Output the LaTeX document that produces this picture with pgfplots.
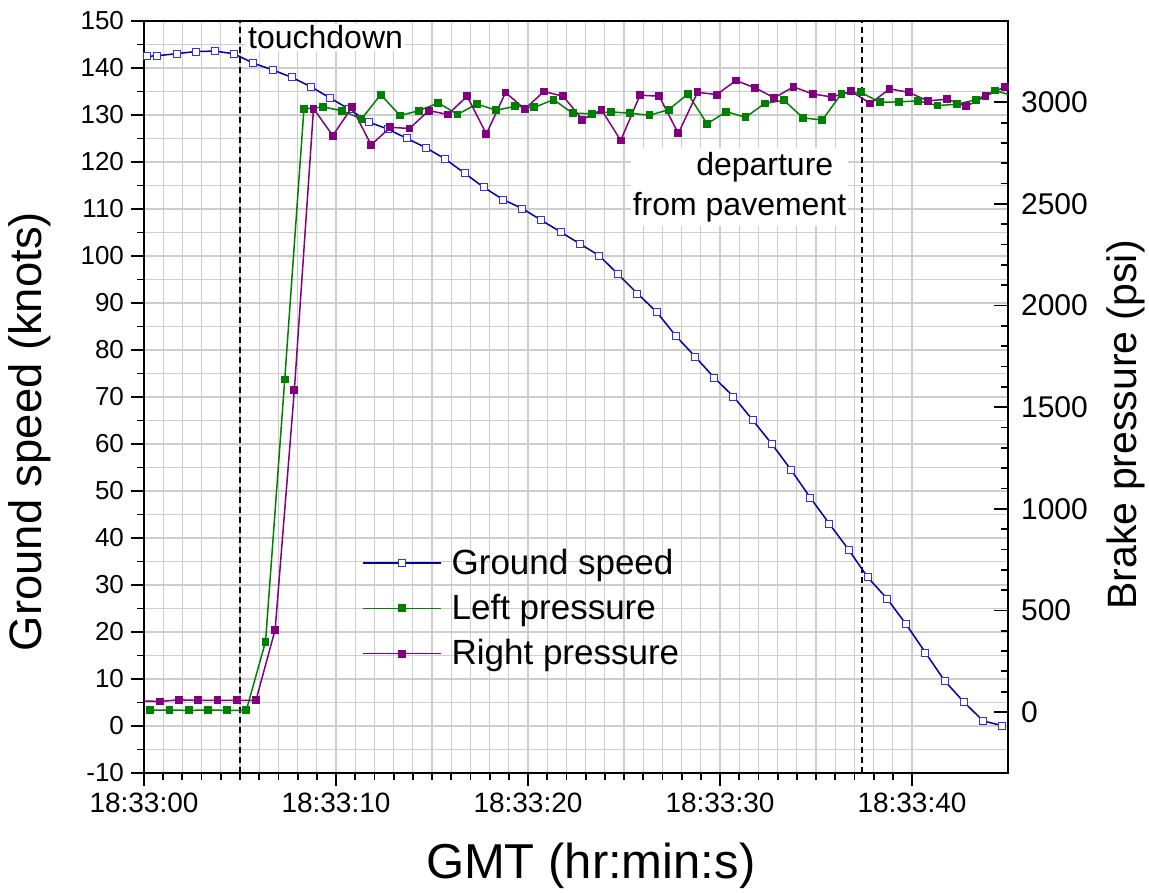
\documentclass[border=0pt]{standalone}
\usepackage{fontspec}
\setmainfont{Liberation Sans}
\usepackage{pgfplots}
\pgfplotsset{compat=1.18}

\definecolor{gsblue}{RGB}{0,0,160}
\definecolor{gsmark}{RGB}{50,50,230}
\definecolor{lgreen}{RGB}{0,128,0}
\definecolor{rpurple}{RGB}{128,0,128}
\definecolor{gridgray}{RGB}{205,205,205}

\pgfplotsset{
  base/.style={
    scale only axis, width=432pt, height=376pt,
    xmin=0, xmax=45,
    /pgf/number format/assume math mode=true,
    /pgf/number format/set thousands separator={},
    axis line style={-, line width=1pt},
    major tick length=6.5pt, minor tick length=3.5pt,
    every tick/.style={black, line width=0.9pt},
  }
}

\begin{document}
\begin{tikzpicture}
\begin{axis}[base, name=ax,
  ymin=-10, ymax=150, ytick={-10,0,...,150}, minor y tick num=1,
  xtick={0,10,20,30,40},
  xticklabels={18:33:00,18:33:10,18:33:20,18:33:30,18:33:40},
  minor x tick num=9,
  tick align=outside, xtick pos=left, ytick pos=left,
  grid=both, grid style={gridgray, line width=0.6pt},
  minor grid style={gridgray, line width=0.6pt},
  x tick label style={font=\fontsize{14}{16}\selectfont},
  y tick label style={font=\fontsize{13}{15}\selectfont},
  xlabel={GMT (hr:min:s)}, ylabel={Ground speed (knots)},
  xlabel style={font=\fontsize{24.5}{28}\selectfont, at={(axis description cs:0.517,-0.124)}, anchor=center},
  ylabel style={font=\fontsize{22.7}{26}\selectfont, at={(axis description cs:-0.132,0.454)}, anchor=center},
]
\addplot[black, line width=0.6pt, dash pattern=on 3pt off 2pt, forget plot] coordinates {(5,-10) (5,150)};
\addplot[black, line width=0.6pt, dash pattern=on 3pt off 2pt, forget plot] coordinates {(37.4,-10) (37.4,150)};
\node[anchor=west, fill=white, inner sep=1pt, font=\fontsize{16}{18}\selectfont] at (axis cs:5.3,146.5) {touchdown};
\node[anchor=north east, fill=white, align=right, inner xsep=1pt, inner ysep=2pt, font=\fontsize{16}{20}\selectfont] at (axis cs:36.7,123) {departure\rule{6.5pt}{0pt}\\from pavement};
\addplot[gsblue, line width=0.75pt, mark=square*, mark size=1.75pt,
  mark options={draw=gsmark, fill=white, line width=0.5pt}] coordinates {
 (0.15,142.5) (0.7,142.6) (1.7,143.05) (2.7,143.5) (3.7,143.6) (4.7,143.0)
 (5.7,141.0) (6.7,139.6) (7.7,138.0) (8.7,136.0) (9.7,133.6) (10.7,131.2)
 (11.7,128.5) (12.7,127.0) (13.7,125.0) (14.7,123.0) (15.7,120.6) (16.7,117.6)
 (17.7,114.6) (18.7,112.0) (19.7,110.1) (20.7,107.6) (21.7,105.1) (22.7,102.6)
 (23.7,100.1) (24.7,96.1) (25.7,92.0) (26.7,88.1) (27.7,83.0) (28.7,78.6)
 (29.7,74.1) (30.7,70.1) (31.7,65.1) (32.7,60.0) (33.7,54.5) (34.7,48.6)
 (35.7,43.0) (36.7,37.5) (37.7,31.6) (38.7,27.1) (39.7,21.6) (40.7,15.6)
 (41.7,9.6) (42.7,5.1) (43.7,1.1) (44.7,0.06)
};
\end{axis}

\begin{axis}[base,
  ymin=-300, ymax=3400, ytick={0,500,...,3000}, minor y tick num=4,
  axis y line*=right, axis x line=none, tick align=inside,
  major tick length=7pt,
  y tick label style={font=\fontsize{15}{17}\selectfont, xshift=3pt},
  ylabel={Brake pressure (psi)},
  ylabel style={font=\fontsize{20.5}{24}\selectfont, at={(axis description cs:1.137,0.463)}, anchor=center},
  legend style={at={(axis description cs:0.252,0.304)}, anchor=north west,
    draw=none, fill=none, font=\fontsize{17.5}{20}\selectfont,
    row sep=4.5pt, column sep=3pt, inner sep=0pt},
  legend cell align=left,
  legend image code/.code={\draw[mark repeat=2,mark phase=2,#1] plot coordinates {(0pt,0pt) (19.5pt,0pt) (39pt,0pt)};},
]
\addlegendimage{gsblue, line width=0.75pt, mark=square*, mark size=1.75pt, mark options={draw=gsmark, fill=white, line width=0.5pt}}
\addlegendentry{Ground speed}
\addplot[lgreen, line width=0.75pt, mark=square*, mark size=1.6pt] coordinates {
 (0.33,9) (1.33,10) (2.33,8) (3.33,10) (4.33,8) (5.33,9) (6.33,346) (7.33,1636)
 (8.33,2967) (9.33,2977) (10.33,2958) (11.33,2918) (12.33,3038) (13.33,2935)
 (14.33,2959) (15.33,2997) (16.33,2940) (17.33,2992) (18.33,2961) (19.33,2980)
 (20.33,2975) (21.33,3013) (22.33,2946) (23.33,2944) (24.33,2953) (25.33,2946)
 (26.33,2936) (27.33,2964) (28.33,3041) (29.33,2894) (30.33,2954) (31.33,2926)
 (32.33,2994) (33.33,3010) (34.33,2923) (35.33,2913) (36.33,3043) (37.33,3049)
 (38.33,3000) (39.33,3002) (40.33,3007) (41.33,2984) (42.33,2990) (43.33,3013)
 (44.33,3058) (45.33,3030)
};
\addlegendentry{Left pressure}
\addplot[rpurple, line width=0.75pt, mark=square*, mark size=1.6pt] coordinates {
 (-0.17,55) (0.83,52) (1.83,60) (2.83,57) (3.83,57) (4.83,57) (5.83,57) (6.83,405)
 (7.83,1583) (8.83,2969) (9.83,2836) (10.83,2975) (11.83,2790) (12.83,2877)
 (13.83,2871) (14.83,2959) (15.83,2940) (16.83,3030) (17.83,2844) (18.83,3048)
 (19.83,2967) (20.83,3053) (21.83,3030) (22.83,2915) (23.83,2963) (24.83,2812)
 (25.83,3035) (26.83,3030) (27.83,2847) (28.83,3049) (29.83,3038) (30.83,3107)
 (31.83,3071) (32.83,3022) (33.83,3076) (34.83,3041) (35.83,3026) (36.83,3054)
 (37.83,2994) (38.83,3066) (39.83,3049) (40.83,3007) (41.83,3015) (42.83,2980)
 (43.83,3030) (44.83,3076)
};
\addlegendentry{Right pressure}
\end{axis}
\pgfresetboundingbox
\path[use as bounding box] ([xshift=-72pt,yshift=-59.85pt]ax.south west) rectangle ([xshift=70.5pt,yshift=10.5pt]ax.north east);
\end{tikzpicture}
\end{document}
